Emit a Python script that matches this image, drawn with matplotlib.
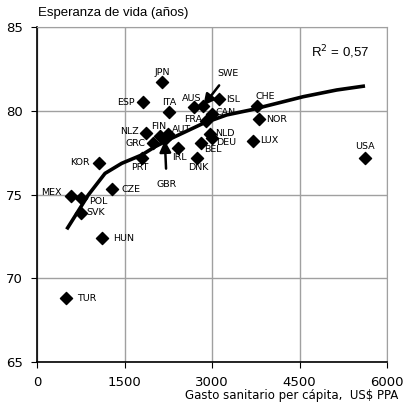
import numpy as np
import matplotlib
matplotlib.use("Agg")
import matplotlib.pyplot as plt

# OCDE: gasto sanitario per capita (US$ PPA) vs esperanza de vida
paises = ["JPN", "ESP", "ITA", "AUS", "SWE", "ISL", "CAN", "FRA", "CHE", "NOR",
          "LUX", "USA", "NLD", "DEU", "BEL", "DNK", "IRL", "AUT", "FIN", "GBR",
          "NLZ", "GRC", "PRT", "KOR", "CZE", "MEX", "POL", "SVK", "HUN", "TUR"]
gasto = [2140, 1820, 2260, 2690, 2850, 3120, 3000, 2900, 3770, 3810,
         3700, 5620, 2970, 3000, 2810, 2740, 2420, 2250, 2110, 2190,
         1870, 1990, 1800, 1060, 1290, 580, 750, 750, 1110, 500]
esperanza = [81.7, 80.5, 79.9, 80.2, 80.3, 80.7, 79.8, 79.4, 80.3, 79.5,
             78.2, 77.2, 78.6, 78.4, 78.1, 77.2, 77.8, 78.6, 78.5, 78.3,
             78.7, 78.1, 77.2, 76.9, 75.3, 74.9, 74.8, 73.9, 72.4, 68.8]

# linea de tendencia (logaritmica)
tend_x = [509, 737, 879, 1166, 1452, 1795, 2023, 2309, 2851, 3252,
          3651, 3994, 4565, 5138, 5623]
tend_y = [72.92, 74.18, 74.97, 76.26, 76.86, 77.36, 77.85, 78.36, 79.25, 79.75,
          80.04, 80.34, 80.84, 81.24, 81.48]

# label offsets in pixels (dx, dy, ha)
offs = {
    "JPN": (0, 10, "center"), "ESP": (-8, 0, "right"), "ITA": (0, 10, "center"),
    "AUS": (-2, 9, "center"), "ISL": (7, 0, "left"), "CAN": (4, 2, "left"),
    "FRA": (-4, 1, "right"), "CHE": (8, 9, "center"), "NOR": (7, 0, "left"),
    "LUX": (7, 0, "left"), "USA": (0, 11, "center"), "NLD": (5, 1, "left"),
    "DEU": (4, -5, "left"), "BEL": (12, -7, "center"), "DNK": (1, -10, "center"),
    "IRL": (1, -10, "center"), "AUT": (13, 5, "center"), "FIN": (-1, 9, "center"),
    "NLZ": (-7, 1, "right"), "GRC": (-8, -1, "right"), "PRT": (-2, -10, "center"),
    "KOR": (-9, 0, "right"), "CZE": (9, 0, "left"), "MEX": (-9, 4, "right"),
    "POL": (8, -4, "left"), "SVK": (6, 0, "left"), "HUN": (11, 0, "left"),
    "TUR": (11, 0, "left"),
}

fig = plt.figure(figsize=(4.09, 4.04), dpi=100)
ax = fig.add_axes([37 / 409, 1 - 362 / 404, 350 / 409, 335 / 404])

ax.set_xlim(0, 6000)
ax.set_ylim(65, 85)
ax.set_xticks([0, 1500, 3000, 4500, 6000])
ax.set_yticks([65, 70, 75, 80, 85])
ax.grid(True, color="#a0a0a0", lw=1)
for s in ["top", "right"]:
    ax.spines[s].set_color("#a0a0a0")
for s in ["left", "bottom"]:
    ax.spines[s].set_color("black")
    ax.spines[s].set_linewidth(1.2)
ax.tick_params(direction="out", length=4, labelsize=9.5, pad=6)

ax.plot(tend_x, tend_y, color="black", lw=2.6, zorder=3, solid_capstyle="butt")

ax.scatter(gasto, esperanza, marker="D", s=38, color="black", zorder=4)

for p, gx, ey in zip(paises, gasto, esperanza):
    if p in offs:
        dx, dy, ha = offs[p]
        ax.annotate(p, (gx, ey), xytext=(dx, dy), textcoords="offset pixels",
                    ha=ha, va="center", fontsize=6.8, zorder=5)

i = paises.index("SWE")
ax.annotate("SWE", (gasto[i], esperanza[i]), xytext=(25, 32),
            textcoords="offset pixels", ha="center", va="center", fontsize=6.8,
            arrowprops=dict(arrowstyle="-|>", color="black", lw=1.8,
                            shrinkA=4, shrinkB=0, mutation_scale=17))
i = paises.index("GBR")
ax.annotate("GBR", (gasto[i], esperanza[i]), xytext=(2, -45),
            textcoords="offset pixels", ha="center", va="center", fontsize=6.8,
            arrowprops=dict(arrowstyle="-|>", color="black", lw=1.8,
                            shrinkA=6, shrinkB=1, mutation_scale=17))

ax.text(340 / 409, 1 - 52 / 404, "R$^2$ = 0,57", transform=fig.transFigure,
        ha="center", va="center", fontsize=9.5, family="Liberation Sans")
fig.text(38 / 409, 1 - 13 / 404, "Esperanza de vida (años)", ha="left",
         va="center", fontsize=9.5, family="Liberation Sans")
fig.text(398 / 409, 1 - 395 / 404, "Gasto sanitario per cápita,  US$ PPA",
         ha="right", va="center", fontsize=8.5)

fig.savefig("out.png", dpi=100)
